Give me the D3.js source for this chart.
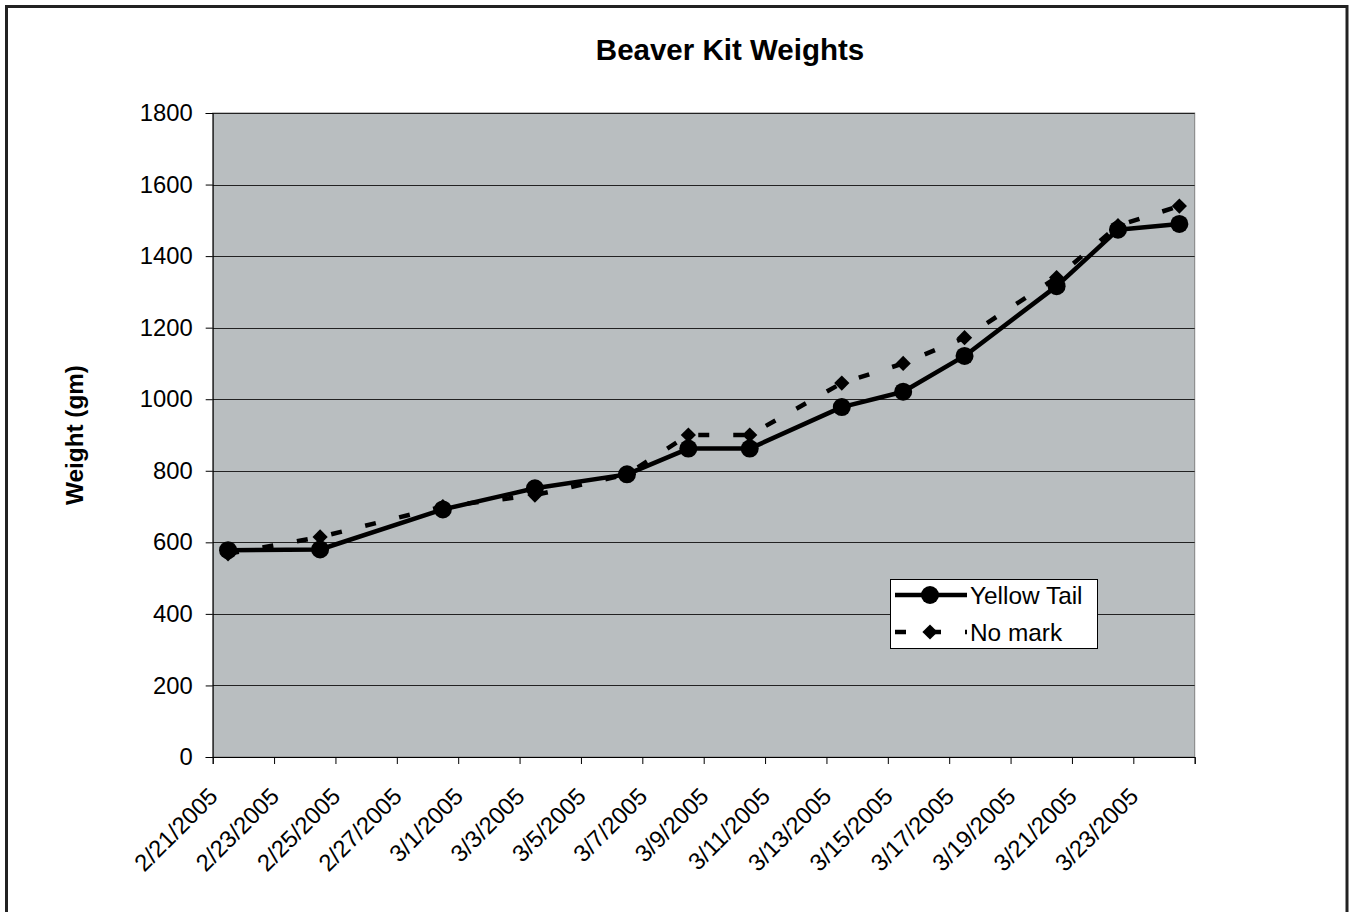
<!DOCTYPE html>
<html>
<head>
<meta charset="utf-8">
<script src="https://cdn.jsdelivr.net/npm/d3@7"></script>
<style>
	body { margin: 0; background: white; }
	text { font-family: "Liberation Sans", Arial, sans-serif; }
</style>
</head>
<body>
<script>

var dates = [
	'2/21/2005', '2/24/2005', '2/28/2005', '3/3/2005', '3/6/2005', '3/8/2005', '3/10/2005',
	'3/13/2005', '3/15/2005', '3/17/2005', '3/20/2005', '3/22/2005', '3/24/2005'
]

var yellowTail = [578, 580, 692, 751, 790, 862, 862, 978, 1021, 1121, 1316, 1474, 1490]
var noMark = [568, 615, 700, 732, 790, 900, 900, 1045, 1100, 1172, 1340, 1485, 1540]

var tickLabels = [
	'2/21/2005', '2/23/2005', '2/25/2005', '2/27/2005', '3/1/2005', '3/3/2005', '3/5/2005', '3/7/2005',
	'3/9/2005', '3/11/2005', '3/13/2005', '3/15/2005', '3/17/2005', '3/19/2005', '3/21/2005', '3/23/2005'
]

var yTicks = [0, 200, 400, 600, 800, 1000, 1200, 1400, 1600, 1800]

var seriesNames = ['Yellow Tail', 'No mark']

var parse = d3.timeParse('%m/%d/%Y')

var width = 1349,
	height = 912

var svg = d3.select('body').append('svg')
	.attr('width', width)
	.attr('height', height)

// outer chart border
svg.append('rect')
	.attr('x', 6.5)
	.attr('y', 6.5)
	.attr('width', 1340.5)
	.attr('height', 920)
	.attr('fill', 'white')
	.attr('stroke', '#222')
	.attr('stroke-width', 3)

var plot = {left: 212.7, right: 1194.7, top: 113, bottom: 757}

var x = d3.scaleTime()
	.domain([parse('2/21/2005'), parse('3/25/2005')])
	.range([plot.left, plot.right])

var y = d3.scaleLinear()
	.domain([0, 1800])
	.range([plot.bottom, plot.top])

// points sit in the middle of their day
var xPoint = d => x(d3.timeHour.offset(parse(d), 12))

svg.append('rect')
	.attr('x', plot.left)
	.attr('y', plot.top)
	.attr('width', plot.right - plot.left)
	.attr('height', plot.bottom - plot.top)
	.attr('fill', '#b9bec0')
	.attr('stroke', '#808080')
	.attr('stroke-width', 1)

// gridlines
svg.selectAll('.grid')
	.data(yTicks.slice(1))
	.enter()
	.append('line')
		.attr('x1', plot.left)
		.attr('x2', plot.right)
		.attr('y1', d => Math.round(y(d)) + 0.5)
		.attr('y2', d => Math.round(y(d)) + 0.5)
		.attr('stroke', '#222')
		.attr('stroke-width', 1)

// y axis
var yAxis = svg.append('g')
	.attr('transform', 'translate(' + plot.left + ',0)')
	.call(d3.axisLeft(y).tickValues(yTicks).tickFormat(d3.format('d')).tickSize(7).tickPadding(13))

yAxis.select('.domain').attr('stroke', '#000')
yAxis.selectAll('text')
	.style('font-family', '"Liberation Sans", Arial, sans-serif')
	.style('font-size', '23.8px')
	.attr('fill', '#000')

// x axis
var tickDates = tickLabels.map(parse).concat([parse('3/25/2005')])

var xAxis = svg.append('g')
	.attr('transform', 'translate(0,' + plot.bottom + ')')
	.call(d3.axisBottom(x).tickValues(tickDates).tickSize(7).tickFormat((d, i) => tickLabels[i] || ''))

xAxis.select('.domain').attr('stroke', '#000')
xAxis.selectAll('text')
	.style('font-family', '"Liberation Sans", Arial, sans-serif')
	.style('font-size', '23.8px')
	.attr('fill', '#000')
	.attr('text-anchor', 'end')
	.attr('dy', null)
	.attr('y', null)
	.attr('transform', 'translate(6,41) rotate(-45)')

// series lines
var line = d3.line()
	.x((d, i) => xPoint(dates[i]))
	.y(d => y(d))

svg.append('path')
	.datum(yellowTail)
	.attr('d', line)
	.attr('fill', 'none')
	.attr('stroke', '#000')
	.attr('stroke-width', 4.5)
	.attr('stroke-linejoin', 'round')

svg.append('path')
	.datum(noMark)
	.attr('d', line)
	.attr('fill', 'none')
	.attr('stroke', '#000')
	.attr('stroke-width', 4.5)
	.attr('stroke-dasharray', '11,24')

var diamond = d3.symbol().type(d3.symbolSquare).size(116)

svg.selectAll('.yt')
	.data(yellowTail)
	.enter()
	.append('circle')
		.attr('cx', (d, i) => xPoint(dates[i]))
		.attr('cy', d => y(d))
		.attr('r', 9)
		.attr('fill', '#000')

svg.selectAll('.nm')
	.data(noMark)
	.enter()
	.append('path')
		.attr('d', diamond)
		.attr('transform', (d, i) => 'translate(' + xPoint(dates[i]) + ',' + y(d) + ') rotate(45)')
		.attr('fill', '#000')

// title + axis label
svg.append('text')
	.attr('x', 730)
	.attr('y', 60)
	.attr('text-anchor', 'middle')
	.style('font-size', '29.5px')
	.style('font-weight', 'bold')
	.text('Beaver Kit Weights')

svg.append('text')
	.attr('transform', 'translate(83,435) rotate(-90)')
	.attr('text-anchor', 'middle')
	.style('font-size', '24.3px')
	.style('font-weight', 'bold')
	.text('Weight (gm)')

// LEGEND
var legend = svg.append('g')

legend.append('rect')
	.attr('x', 890.5)
	.attr('y', 579.5)
	.attr('width', 207)
	.attr('height', 69)
	.attr('fill', 'white')
	.attr('stroke', '#000')
	.attr('stroke-width', 1)

var legendY = [595, 632]

legend.selectAll('.lline')
	.data(seriesNames)
	.enter()
	.append('line')
		.attr('x1', 895)
		.attr('x2', 967)
		.attr('y1', (d, i) => legendY[i])
		.attr('y2', (d, i) => legendY[i])
		.attr('stroke', '#000')
		.attr('stroke-width', 4.5)
		.attr('stroke-dasharray', (d, i) => i == 1 ? '11,24' : null)

legend.append('circle')
	.attr('cx', 930)
	.attr('cy', legendY[0])
	.attr('r', 9)
	.attr('fill', '#000')

legend.append('path')
	.attr('d', diamond)
	.attr('transform', 'translate(930,' + legendY[1] + ') rotate(45)')
	.attr('fill', '#000')

legend.selectAll('.ltext')
	.data(seriesNames)
	.enter()
	.append('text')
		.attr('x', 970)
		.attr('y', (d, i) => legendY[i] + 8.5)
		.style('font-size', '24.4px')
		.text(d => d)

</script>
</body>
</html>
